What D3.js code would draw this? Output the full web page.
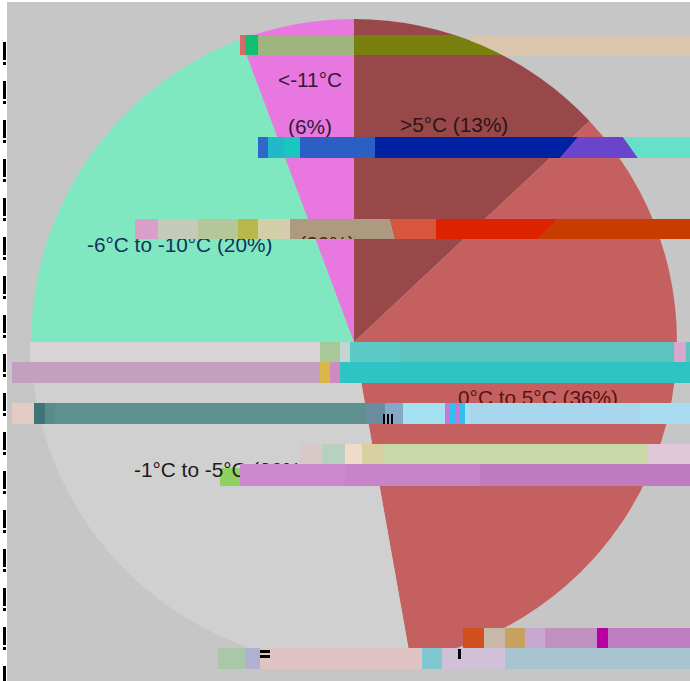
<!DOCTYPE html>
<html>
<head>
<meta charset="utf-8">
<script src="https://d3js.org/d3.v7.min.js"></script>
<style>
  html, body { margin: 0; padding: 0; background: #fff; }
  svg { display: block; }
  text { font-family: "Liberation Sans", Arial, sans-serif; font-size: 20.8px; }
</style>
</head>
<body>
<svg width="690" height="681"></svg>
<script>
// slices, clockwise from 12 o'clock (values are the swept shares)
const categories = [">5°C", "0°C to 5°C", "-1°C to -5°C", "-6°C to -10°C", "<-11°C"];
const values = [13, 34.2, 27.8, 19.3, 5.7];
const percentLabels = ["(13%)", "(36%)", "(26%)", "(20%)", "(6%)"];
const sliceColors = ["#99484a", "#c46060", "#d0d0d0", "#80e8c0", "#e878e0"];
const textColors = ["#2a1416", "#5a1214", "#1c1c1c", "#14305c", "#2c1c3a"];

// the reference has damaged horizontal strips across it, these are their [x0, x1, colour] runs.
// x1 may be [top, bottom] for a slanted end, a 4th item clips the run to that slice
const strips = [
  { y: 35, h: 20, runs: [[240, 249, "#d86a6a"], [245, 258, "#10c070"], [258, 354, "#9fb57f"], [470, 690, "#d9c6ac"], [354, 510, "#7a8010", 0]] },
  { y: 137, h: 21, runs: [[258, 268, "#2f68cc"], [268, 300, "#22b8c8"], [284, 300, "#18c8c0"], [300, 375, "#2b5fc4"], [375, [578, 560], "#0021a3"], [[578, 560], [623, 638], "#6b44cc"], [[623, 638], 690, "#66e0c8"]] },
  { y: 219, h: 20, runs: [[135, 158, "#d8a0c8"], [158, 198, "#c4c9b8"], [198, 238, "#b5c79a"], [238, 258, "#b8b84a"], [258, 280, "#d3d0a8"], [280, 290, "#d8ccb0"], [290, [390, 395], "#ae9a80"], [[390, 395], 436, "#d8553e"], [436, [558, 538], "#dd2200"], [[558, 538], 690, "#c83c00"]] },
  { y: 342, h: 20, runs: [[30, 320, "#d8d4d6"], [320, 340, "#a8c89a"], [340, 350, "#c4d4d4"], [350, 400, "#5ccac6"], [400, 690, "#5cc4c0"], [674, 686, "#d8a8d0"]] },
  { y: 362, h: 21, runs: [[12, 320, "#c4a0c0"], [320, 330, "#d8b848"], [330, 340, "#d08ac0"], [340, 690, "#2ec4c4"]] },
  { y: 403, h: 21, runs: [[12, 34, "#e4ccc4"], [34, 45, "#3f7478"], [45, 55, "#5a8a8a"], [55, 365, "#5f9090"], [365, 385, "#6a8ea0"], [385, 403, "#86a8c8"], [403, 445, "#a4e0f0"], [445, 465, "#c878d8"], [450, 456, "#30c0f0"], [460, 465, "#30c0f0"], [465, 690, "#a8dcf0"], [470, 640, "#a8d6ec"], [640, 690, "#a8dcf0"]] },
  { y: 444, h: 20, runs: [[300, 322, "#d8c8c8"], [322, 345, "#b8d0c0"], [345, 362, "#eedcc8"], [362, 383, "#d8d0a0"], [383, 648, "#c8d8a8"], [648, 690, "#e0c8d8"]] },
  { y: 464, h: 22, runs: [[240, 345, "#cc88cc"], [345, 480, "#c884c8"], [480, 690, "#c07ac0"]] },
  { y: 628, h: 21, runs: [[463, 484, "#d05020"], [484, 505, "#c8b8a8"], [505, 525, "#c8a060"], [525, 545, "#c8a8d0"], [545, 597, "#c090c0"], [597, 608, "#b800a0"], [608, 690, "#c07cc0"]] },
  { y: 648, h: 21, runs: [[218, 245, "#a8c8a8"], [245, 260, "#b0b0d0"], [260, 422, "#e0c4c4"], [422, 442, "#80c8d0"], [442, 505, "#d0c0d8"], [505, 690, "#a8c4d0"]] }
];
// small black specks left in the strips, [x, y, w, h]
const specks = [[383, 414, 2, 10], [387, 414, 2, 10], [391, 414, 2, 10], [260, 650, 10, 3], [260, 655, 10, 3], [458, 649, 3, 10]];

var svg = d3.select("svg"),
    cx = 354,
    cy = 342,
    radius = 323;

svg.append("rect").attr("x", 7).attr("y", 2).attr("width", 683).attr("height", 679).attr("fill", "#c6c6c6");

// ticks running down the left margin
d3.range(42, 681, 39).forEach(function(y) {
  svg.append("rect").attr("x", 3).attr("y", y).attr("width", 3).attr("height", 18).attr("fill", "#000");
  svg.append("rect").attr("x", 3).attr("y", y + 20).attr("width", 3).attr("height", 3).attr("fill", "#000");
});

var pie = d3.pie().sort(null).value(function(d) { return d; });
var arc = d3.arc().innerRadius(0).outerRadius(radius);
var arcs = pie(values);

var g = svg.append("g").attr("transform", "translate(" + cx + "," + cy + ")");

g.selectAll(".slice")
  .data(arcs)
  .enter().append("path")
  .attr("class", "slice")
  .attr("d", arc)
  .attr("fill", function(d, i) { return sliceColors[i]; });

// clip paths so a run can stop at a slice edge
var defs = svg.append("defs");
arcs.forEach(function(d, i) {
  defs.append("clipPath").attr("id", "slice" + i)
    .append("path")
    .attr("transform", "translate(" + cx + "," + cy + ")")
    .attr("d", arc(d));
});

// green patch sits under the -1°C label
svg.append("rect").attr("x", 220).attr("y", 468).attr("width", 20).attr("height", 18).attr("fill", "#90d060");

function label(i, x, y) {
  svg.append("text")
    .attr("x", x).attr("y", y)
    .attr("fill", textColors[i])
    .text(categories[i] + " " + percentLabels[i]);
}
label(0, 400, 132);
label(1, 458, 405);
label(2, 134, 477);
label(3, 87, 252);
svg.append("text").attr("x", 310).attr("y", 87).attr("text-anchor", "middle").attr("fill", textColors[4]).text(categories[4]);
svg.append("text").attr("x", 310).attr("y", 134).attr("text-anchor", "middle").attr("fill", textColors[4]).text(percentLabels[4]);

function pair(x) { return Array.isArray(x) ? x : [x, x]; }

strips.forEach(function(s) {
  s.runs.forEach(function(r) {
    var a = pair(r[0]), b = pair(r[1]);
    var shape = svg.append("polygon")
      .attr("points", [[a[0], s.y], [b[0], s.y], [b[1], s.y + s.h], [a[1], s.y + s.h]].join(" "))
      .attr("fill", r[2]);
    if (r[3] !== undefined) shape.attr("clip-path", "url(#slice" + r[3] + ")");
  });
});

specks.forEach(function(p) {
  svg.append("rect").attr("x", p[0]).attr("y", p[1]).attr("width", p[2]).attr("height", p[3]).attr("fill", "#000");
});

// stray piece of a percent label showing through the tan run
svg.append("clipPath").attr("id", "stray")
  .append("rect").attr("x", 295).attr("y", 233).attr("width", 60).attr("height", 6);
svg.append("text").attr("x", 327).attr("y", 251).attr("text-anchor", "middle")
  .attr("fill", "#4a2408").attr("clip-path", "url(#stray)").text(percentLabels[3]);
</script>
</body>
</html>
